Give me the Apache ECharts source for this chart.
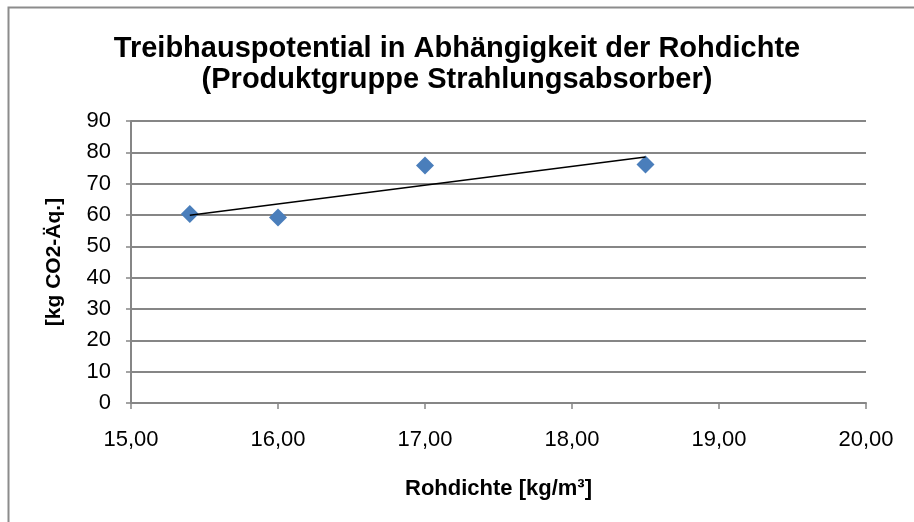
<!DOCTYPE html>
<html><head><meta charset="utf-8">
<script src="https://cdn.jsdelivr.net/npm/echarts@6/dist/echarts.min.js"></script>
<style>html,body{margin:0;padding:0;background:#fff}#c{width:914px;height:522px}</style>
</head><body><div id="c"></div>
<script>
const rohdichte = [15.4, 16.0, 17.0, 18.5];
const treibhaus = [60.3, 59.2, 75.8, 76.1];
const titleText = 'Treibhauspotential in Abhängigkeit der Rohdichte\n(Produktgruppe Strahlungsabsorber)';
const xName = 'Rohdichte [kg/m³]';
const yName = '[kg CO2-Äq.]';

// linear trendline (least squares) over the data, drawn between min and max x
const n = rohdichte.length;
const mx = rohdichte.reduce((a,b)=>a+b,0)/n;
const my = treibhaus.reduce((a,b)=>a+b,0)/n;
let sxy=0, sxx=0;
for (let i=0;i<n;i++){ sxy+=(rohdichte[i]-mx)*(treibhaus[i]-my); sxx+=(rohdichte[i]-mx)**2; }
const slope = sxy/sxx, icpt = my - slope*mx;
const xmin = Math.min(...rohdichte), xmax = Math.max(...rohdichte);
const trend = [[xmin, icpt+slope*xmin],[xmax, icpt+slope*xmax]];

const chart = echarts.init(document.getElementById('c'), null, {renderer:'canvas'});
const font = 'Liberation Sans, Arial, sans-serif';
const gray = '#868686';
chart.setOption({
  animation:false,
  backgroundColor:'#fff',
  graphic:[{type:'rect', shape:{x:8.5,y:7.5,width:1000,height:1000}, style:{fill:'none',stroke:'#8c8c8c',lineWidth:2}, silent:true, z:-1}],
  title:{text:titleText, left:'center', top:28, textStyle:{fontFamily:font, fontWeight:'bold', fontSize:29, lineHeight:31, color:'#000'}},
  grid:{left:131, right:48, top:121, bottom:119, containLabel:false},
  xAxis:{type:'value', min:15, max:20, interval:1,
    name:xName, nameLocation:'middle', nameGap:75,
    nameTextStyle:{fontFamily:font, fontWeight:'bold', fontSize:22, color:'#000'},
    axisLine:{show:true, lineStyle:{color:gray, width:2}},
    axisTick:{show:true, length:6, lineStyle:{color:gray, width:1.5}},
    axisLabel:{fontFamily:font, fontSize:22, color:'#000', margin:26, formatter:v=>v.toFixed(2).replace('.',',')},
    splitLine:{show:false}},
  yAxis:[{type:'value', min:0, max:90, interval:10,
    name:yName, nameLocation:'middle', nameGap:66, nameRotate:90,
    nameTextStyle:{fontFamily:font, fontWeight:'bold', fontSize:21, color:'#000'},
    axisLine:{show:true, lineStyle:{color:gray, width:2}},
    axisTick:{show:true, length:5, lineStyle:{color:gray, width:1.5}},
    axisLabel:{fontFamily:font, fontSize:22, color:'#000', margin:20},
    splitLine:{show:true, lineStyle:{color:gray, width:2}}},
   {type:'value', min:0, max:90, interval:10, position:'left',
    axisLine:{show:false}, axisLabel:{show:false}, splitLine:{show:false},
    axisTick:{show:true, inside:true, length:5, lineStyle:{color:gray, width:1.5}}}],
  series:[
    {type:'line', data:trend, symbol:'none', lineStyle:{color:'#000', width:1.5}, z:3, silent:true},
    {type:'scatter', data:rohdichte.map((x,i)=>[x,treibhaus[i]]), symbol:'diamond', symbolSize:[18,18],
     itemStyle:{color:'#4a7ebb', opacity:1}, z:2}
  ]
});
</script></body></html>
